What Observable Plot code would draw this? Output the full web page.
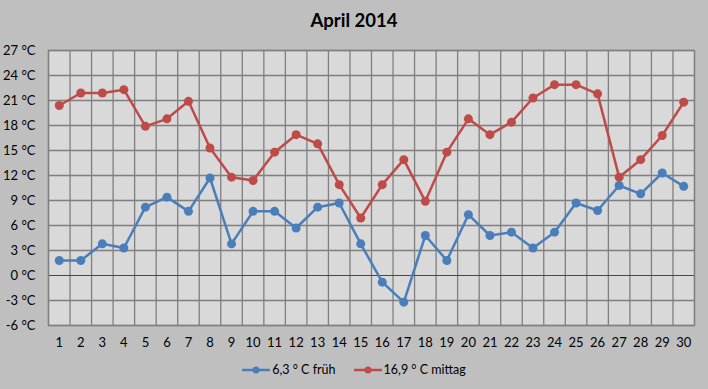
<!DOCTYPE html>
<html>
<head>
<meta charset="utf-8">
<script src="https://cdn.jsdelivr.net/npm/d3@7"></script>
<script src="https://cdn.jsdelivr.net/npm/@observablehq/plot@0.6"></script>
<style>
  html, body { margin: 0; padding: 0; background: #bfbfbf; }
  #wrap { width: 708px; height: 389px; position: relative; background: #bfbfbf; font-family: Lato, "Open Sans", sans-serif; overflow: hidden; }
  #title { position: absolute; left: 0; top: 9px; width: 708px; text-align: center; font-size: 18.5px; font-weight: bold; color: #000; }
  #chart { position: absolute; left: 0; top: 38px; }
  #legend { position: absolute; left: 0; top: 362px; width: 708px; display: flex; justify-content: center; gap: 18px; font-size: 12.5px; color: #000; }
  .item { display: flex; align-items: center; }
  .item svg { margin-right: 2px; }
</style>
</head>
<body>
<div id="wrap">
  <div id="title">April 2014</div>
  <div id="chart"></div>
  <div id="legend"></div>
</div>
<script>
const days = d3.range(1, 31);
const frueh = [1.8, 1.8, 3.8, 3.3, 8.2, 9.4, 7.7, 11.7, 3.8, 7.7,
               7.7, 5.7, 8.2, 8.7, 3.8, -0.8, -3.2, 4.8, 1.8, 7.3,
               4.8, 5.2, 3.3, 5.2, 8.7, 7.8, 10.8, 9.8, 12.3, 10.7];
const mittag = [20.4, 21.9, 21.9, 22.3, 17.9, 18.8, 20.9, 15.3, 11.8, 11.4,
                14.8, 16.9, 15.8, 10.9, 6.9, 10.9, 13.9, 8.9, 14.8, 18.8,
                16.9, 18.4, 21.3, 22.9, 22.9, 21.8, 11.8, 13.9, 16.8, 20.8];
const yTicks = [-6, -3, 0, 3, 6, 9, 12, 15, 18, 21, 24, 27];
const seriesNames = ["6,3 ° C früh", "16,9 ° C mittag"];
const colors = ["#4a7ebb", "#be4b48"];

const data = [];
days.forEach((d, i) => {
  data.push({day: d, value: frueh[i], series: seriesNames[0]});
  data.push({day: d, value: mittag[i], series: seriesNames[1]});
});
const boundaries = d3.range(0.5, 31, 1);

const chart = Plot.plot({
  width: 708,
  height: 320,
  marginLeft: 48,
  marginRight: 14,
  marginTop: 12,
  marginBottom: 33,
  style: { background: "transparent", fontFamily: "Lato, 'Open Sans', sans-serif", fontSize: "13px", color: "#000" },
  x: { domain: [0.5, 30.5], ticks: days, tickFormat: d => String(d), tickSize: 0, tickPadding: 12, label: null },
  y: { domain: [-6, 27], ticks: yTicks, tickFormat: d => `${d < 0 ? "-" + Math.abs(d) : d} °C`, tickSize: 0, tickPadding: 13, label: null },
  color: { domain: seriesNames, range: colors },
  marks: [
    Plot.frame({ fill: "#d9d9d9" }),
    Plot.ruleX(boundaries, { stroke: "#7f7f7f", strokeWidth: 1.3, strokeOpacity: 1 }),
    Plot.ruleY(yTicks.filter(d => d !== 0), { stroke: "#7f7f7f", strokeWidth: 1.3, strokeOpacity: 1 }),
    Plot.ruleY([0], { stroke: "#ee0000", strokeWidth: 1.2 }),
    Plot.frame({ stroke: "#7f7f7f", strokeWidth: 1.3 }),
    Plot.line(data, { x: "day", y: "value", stroke: "series", z: "series", strokeWidth: 2.5 }),
    Plot.dot(data, { x: "day", y: "value", fill: "series", r: 4.5 })
  ]
});
document.getElementById("chart").appendChild(chart);

const legend = document.getElementById("legend");
seriesNames.forEach((name, i) => {
  const item = document.createElement("div");
  item.className = "item";
  item.innerHTML = `<svg width="28" height="12"><line x1="0" y1="6" x2="28" y2="6" stroke="${colors[i]}" stroke-width="2.5"/><circle cx="14" cy="6" r="3.5" fill="${colors[i]}"/></svg><span>${name}</span>`;
  legend.appendChild(item);
});
</script>
</body>
</html>
